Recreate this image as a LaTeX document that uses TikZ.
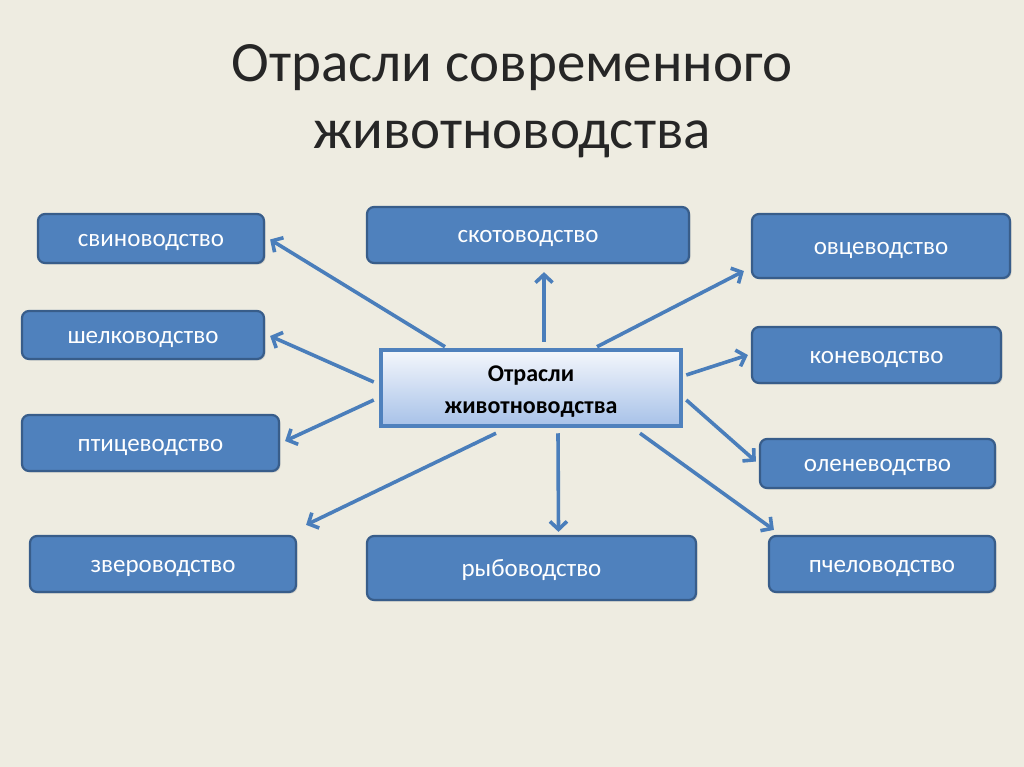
\documentclass[tikz,border=0pt]{standalone}
\usepackage{fontspec}
\setmainfont{Carlito}
\usetikzlibrary{arrows.meta,calc,shadows}
\definecolor{bgc}{HTML}{EEECE1}
\definecolor{boxfill}{HTML}{4F81BD}
\definecolor{boxline}{HTML}{385D8A}
\definecolor{arrc}{HTML}{4A7EBB}
\definecolor{ctop}{HTML}{F4F7FC}
\definecolor{cbot}{HTML}{A7C1E8}
\pgfdeclarelayer{back}
\pgfdeclarelayer{bg}
\pgfsetlayers{back,bg,main}
\tikzset{
  leaf/.style={draw=boxline, fill=boxfill, line width=2.2pt, rounded corners=7pt,
    text=white, font=\fontsize{25}{28}\selectfont, inner sep=0pt,
    text height=16pt, text depth=0pt,
    drop shadow={shadow xshift=1.5pt, shadow yshift=-1.5pt, opacity=0.25}},
  hub/.style={draw=boxfill, line width=4.5pt, top color=ctop, bottom color=cbot,
    inner sep=0pt,
    drop shadow={shadow xshift=2pt, shadow yshift=-2pt, opacity=0.3}},
  hubtext/.style={text=black, font=\bfseries\fontsize{24}{32}\selectfont, align=center, inner sep=0pt},
  conn/.style={draw=arrc, line width=3.6pt, -{Straight Barb[length=8pt,width=17pt,line width=3.6pt]}},
}
\begin{document}
\begin{tikzpicture}[x=1pt,y=-1pt]
\begin{pgfonlayer}{back}
\fill[bgc] (0,0) rectangle (1024,767);
\end{pgfonlayer}
\useasboundingbox (0,0) rectangle (1024,767);
\node[text=black!85, font=\fontsize{57}{67}\selectfont, align=center] (title) at (512,101.5)
  {Отрасли современного\\животноводства};
\node[leaf, minimum width=226pt, minimum height=49pt] (s1) at (151,238.5) {свиноводство};
\node[leaf, minimum width=322pt, minimum height=56pt] (s2) at (528,235) {скотоводство};
\node[leaf, minimum width=258pt, minimum height=64pt] (s3) at (881,246) {овцеводство};
\node[leaf, minimum width=242pt, minimum height=48pt] (s4) at (143,335) {шелководство};
\node[leaf, minimum width=249pt, minimum height=56pt] (s5) at (876.5,355) {коневодство};
\node[leaf, minimum width=257pt, minimum height=56pt] (s6) at (150.5,443) {птицеводство};
\node[leaf, minimum width=235pt, minimum height=49pt] (s7) at (877.5,463.5) {оленеводство};
\node[leaf, minimum width=266pt, minimum height=56pt] (s8) at (163,564) {звероводство};
\node[leaf, minimum width=329pt, minimum height=64pt] (s9) at (531.5,568) {рыбоводство};
\node[leaf, minimum width=226pt, minimum height=56pt] (s10) at (882,564) {пчеловодство};
\node[hub, minimum width=300pt, minimum height=76pt] (c) at (531,388) {};
\node[hubtext] (ct) at ($(c.center)+(0,4)$) {Отрасли\\животноводства};
\begin{pgfonlayer}{bg}
\draw[conn] ($(c.north)+(-86,-1)$) -- ($(s1.east)+(5,1)$);
\draw[conn] ($(c.north)+(13,-6)$) -- ($(s2.south)+(16,8)$);
\draw[conn] ($(c.north)+(66,-1)$) -- ($(s3.west)+(-7,25)$);
\draw[conn] ($(c.west)+(-5,-6)$) -- ($(s4.east)+(5,1)$);
\draw[conn] ($(c.east)+(3,-13)$) -- ($(s5.west)+(-3,0)$);
\draw[conn] ($(c.west)+(-5,12)$) -- ($(s6.east)+(5,-2)$);
\draw[conn] ($(c.east)+(3,12)$) -- ($(s7.west)+(-3,-2)$);
\draw[conn] ($(c.south)+(-35,5)$) -- ($(s8.north east)+(9,-10)$);
\draw[conn] ($(c.south)+(27,5)$) -- ($(s9.north)+(27,-3)$);
\draw[conn] ($(c.south)+(109,5)$) -- ($(s10.north west)+(6,-5)$);
\end{pgfonlayer}
\end{tikzpicture}
\end{document}
